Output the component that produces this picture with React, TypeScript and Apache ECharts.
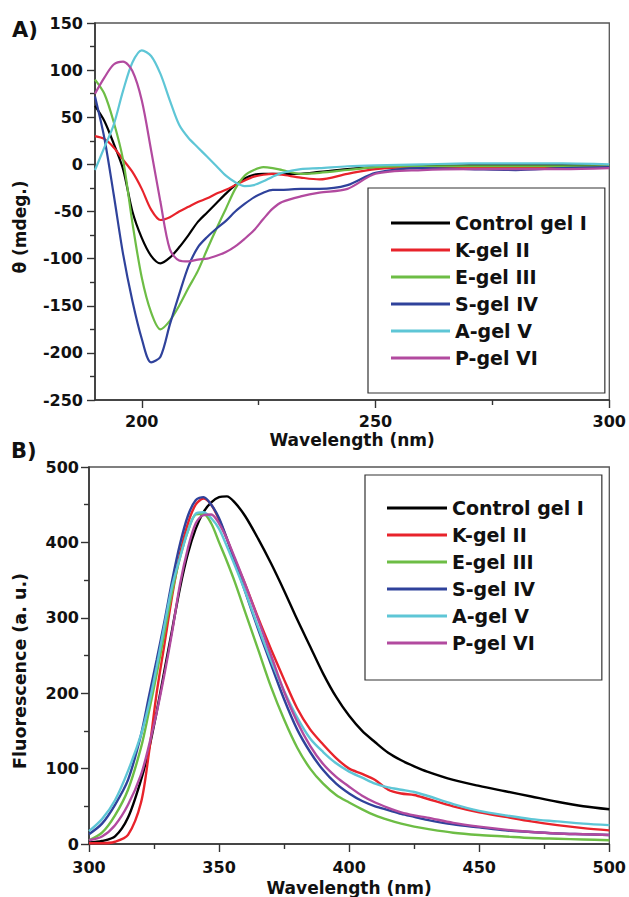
import React, { useEffect, useRef } from "react";
import * as echarts from "echarts";

const seriesNames = ["Control gel I", "K-gel II", "E-gel III", "S-gel IV", "A-gel V", "P-gel VI"];
const seriesColors = ["#000000", "#e8232b", "#6dbd45", "#2f429b", "#5ec6d6", "#b24a9f"];

// Panel A: CD spectra
const cdWavelength = [190, 192, 194, 196, 198, 200, 202, 204, 206, 208, 210, 212, 214, 216, 218, 220, 222, 224, 226, 228, 230, 234, 238, 244, 250, 260, 270, 280, 290, 300];
const cdControl = [62, 46, 22, -5, -50, -78, -97, -105, -99, -88, -75, -61, -51, -41, -31, -22, -15, -11, -10, -10, -10, -10, -8, -5, -3, -2, -1, -1, -1, -1];
const cdK = [30, 27, 18, 5, -8, -26, -48, -59, -56, -50, -45, -40, -36, -31, -27, -22, -17, -13, -11, -10, -11, -14, -16, -10, -5, -3, -3, -3, -3, -2];
const cdE = [90, 75, 45, 5, -62, -120, -157, -175, -166, -150, -131, -113, -90, -68, -47, -26, -12, -6, -3, -4, -6, -10, -9, -6, -3, -2, -2, -2, -2, -2];
const cdS = [72, 28, -32, -95, -145, -185, -210, -204, -170, -138, -108, -88, -77, -68, -60, -50, -42, -35, -30, -27, -27, -26, -26, -22, -9, -4, -5, -6, -4, -3];
const cdA = [-6, 18, 42, 78, 108, 121, 115, 96, 68, 42, 28, 18, 8, -2, -12, -19, -23, -22, -18, -13, -9, -5, -4, -2, -1, 0, 1, 1, 1, 0];
const cdP = [75, 92, 106, 109, 99, 68, 15, -40, -90, -102, -103, -101, -100, -97, -93, -87, -79, -70, -58, -47, -40, -34, -30, -26, -10, -6, -5, -5, -5, -4];

// Panel B: fluorescence spectra
const fluWavelength = [300, 305, 310, 315, 320, 323, 326, 329, 332, 335, 338, 341, 344, 347, 350, 353, 356, 360, 365, 370, 375, 380, 385, 390, 395, 400, 405, 410, 415, 420, 425, 430, 440, 450, 460, 470, 480, 490, 500];
const fluControl = [2, 4, 10, 35, 85, 125, 175, 230, 285, 340, 385, 418, 440, 453, 460, 461, 453, 435, 405, 372, 336, 298, 262, 226, 195, 170, 150, 135, 121, 111, 103, 96, 85, 77, 70, 63, 56, 50, 46];
const fluK = [1, 1, 3, 12, 55, 120, 200, 265, 330, 385, 425, 450, 458, 450, 430, 405, 378, 345, 300, 258, 218, 180, 152, 132, 114, 100, 93, 85, 72, 67, 65, 60, 50, 42, 36, 30, 25, 21, 18];
const fluE = [5, 15, 38, 72, 128, 175, 225, 280, 335, 380, 415, 437, 438, 425, 400, 375, 348, 308, 258, 208, 165, 128, 100, 80, 65, 55, 46, 38, 32, 27, 23, 20, 15, 12, 10, 8, 7, 6, 5];
const fluS = [13, 27, 52, 85, 145, 195, 244, 295, 350, 398, 435, 456, 460, 450, 432, 405, 375, 335, 285, 238, 192, 152, 122, 98, 80, 67, 57, 50, 45, 40, 36, 32, 26, 22, 18, 16, 14, 13, 12];
const fluA = [17, 33, 58, 97, 145, 185, 235, 290, 343, 380, 415, 438, 440, 432, 418, 395, 370, 335, 288, 243, 203, 168, 140, 122, 107, 96, 88, 80, 75, 72, 69, 64, 53, 44, 38, 33, 30, 27, 25];
const fluP = [5, 10, 25, 52, 92, 130, 174, 225, 282, 345, 392, 425, 436, 437, 425, 405, 380, 345, 298, 250, 202, 162, 130, 106, 89, 76, 64, 55, 48, 42, 38, 35, 28, 23, 19, 16, 14, 13, 12];

const cdTicks = [200, 250, 300];
const cdMinorTicks = [225, 275];

const cdValues = [cdControl, cdK, cdE, cdS, cdA, cdP];
const fluValues = [fluControl, fluK, fluE, fluS, fluA, fluP];

const FONT = "'DejaVu Sans', sans-serif";
const AXIS_COLOR = "#333";

export default function App() {
  const ref = useRef<HTMLDivElement>(null);

  useEffect(() => {
    if (!ref.current) return;
    const chart = echarts.init(ref.current, null, { renderer: "svg" });

    const labelStyle = { fontFamily: FONT, fontWeight: "bold" as const, fontSize: 16, color: "#111" };
    const axisLine = { show: true, onZero: false, lineStyle: { color: AXIS_COLOR, width: 1.6 } };
    const tickStyle = { color: AXIS_COLOR, width: 1.4 };

    const cdSeries = seriesNames.map((name, i) => ({
      name,
      type: "line",
      xAxisIndex: 0,
      yAxisIndex: 0,
      data: cdWavelength.map((w, j) => [w, cdValues[i][j]]),
      showSymbol: false,
      symbol: "none",
      smooth: 0.3,
      color: seriesColors[i],
      lineStyle: { color: seriesColors[i], width: 2.2 },
    }));
    const fluSeries = seriesNames.map((name, i) => ({
      name,
      type: "line",
      xAxisIndex: 2,
      yAxisIndex: 1,
      data: fluWavelength.map((w, j) => [w, fluValues[i][j]]),
      showSymbol: false,
      symbol: "none",
      smooth: 0.3,
      color: seriesColors[i],
      lineStyle: { color: seriesColors[i], width: 2.4 },
    }));

    const legendBase = {
      data: seriesNames,
      orient: "vertical",
      icon: "rect",
      itemHeight: 3,
      itemGap: 7,
      borderColor: "#333",
      borderWidth: 1.2,
      backgroundColor: "transparent",
      selectedMode: false,
      textStyle: { fontFamily: FONT, fontWeight: "bold", fontSize: 19, lineHeight: 20, color: "#111" },
    };

    chart.setOption({
      animation: false,
      backgroundColor: "#fff",
      grid: [
        { left: 95, top: 23, width: 517, height: 377, show: true, borderColor: "#555", borderWidth: 1.3 },
        { left: 89, top: 467, width: 522, height: 377, show: true, borderColor: "#555", borderWidth: 1.3 },
      ],
      xAxis: [
        {
          gridIndex: 0,
          type: "value",
          position: "bottom",
          min: 190,
          max: 300,
          axisLine,
          axisTick: { show: true, inside: false, length: 8, customValues: cdTicks, lineStyle: tickStyle },
          axisLabel: { ...labelStyle, margin: 13, customValues: cdTicks },
          splitLine: { show: false },
          name: "Wavelength (nm)",
          nameLocation: "middle",
          nameGap: 31,
          nameTextStyle: { fontFamily: FONT, fontWeight: "bold", fontSize: 17, color: "#111" },
        },
        {
          gridIndex: 0,
          type: "value",
          position: "bottom",
          min: 190,
          max: 300,
          axisLine: { show: false, onZero: false },
          axisTick: { show: true, inside: false, length: 5, customValues: cdMinorTicks, lineStyle: tickStyle },
          axisLabel: { show: false },
          splitLine: { show: false },
        },
        {
          gridIndex: 1,
          type: "value",
          position: "bottom",
          min: 300,
          max: 500,
          interval: 50,
          axisLine,
          axisTick: { show: true, inside: false, length: 8, lineStyle: tickStyle },
          minorTick: { show: true, splitNumber: 2, length: 5, lineStyle: tickStyle },
          axisLabel: { ...labelStyle, margin: 15 },
          splitLine: { show: false },
          minorSplitLine: { show: false },
          name: "Wavelength (nm)",
          nameLocation: "middle",
          nameGap: 35,
          nameTextStyle: { fontFamily: FONT, fontWeight: "bold", fontSize: 17, color: "#111" },
        },
      ],
      yAxis: [
        {
          gridIndex: 0,
          type: "value",
          min: -250,
          max: 150,
          interval: 50,
          axisLine,
          axisTick: { show: true, inside: false, length: 8, lineStyle: tickStyle },
          minorTick: { show: true, splitNumber: 2, length: 5, lineStyle: tickStyle },
          axisLabel: { ...labelStyle, margin: 12 },
          splitLine: { show: false },
          minorSplitLine: { show: false },
        },
        {
          gridIndex: 1,
          type: "value",
          min: 0,
          max: 500,
          interval: 100,
          axisLine,
          axisTick: { show: true, inside: false, length: 8, lineStyle: tickStyle },
          minorTick: { show: true, splitNumber: 2, length: 5, lineStyle: tickStyle },
          axisLabel: { ...labelStyle, margin: 10 },
          splitLine: { show: false },
          minorSplitLine: { show: false },
        },
      ],
      legend: [
        { ...legendBase, left: 368, top: 188, itemWidth: 59, padding: [25, 18, 25, 23] },
        { ...legendBase, left: 365, top: 475, itemWidth: 60, padding: [23, 18, 27, 22] },
      ],
      graphic: [
        {
          type: "text",
          x: 12,
          y: 30,
          style: { text: "A)", fontFamily: FONT, fontWeight: "bold", fontSize: 21, fill: "#111", textVerticalAlign: "middle" },
        },
        {
          type: "text",
          x: 11,
          y: 451,
          style: { text: "B)", fontFamily: FONT, fontWeight: "bold", fontSize: 21, fill: "#111", textVerticalAlign: "middle" },
        },
        {
          type: "text",
          x: 20,
          y: 227,
          rotation: Math.PI / 2,
          style: { text: "θ (mdeg.)", fontFamily: FONT, fontWeight: "bold", fontSize: 17, fill: "#111", textAlign: "center", textVerticalAlign: "middle" },
        },
        {
          type: "text",
          x: 20,
          y: 671,
          rotation: Math.PI / 2,
          style: { text: "Fluorescence (a. u.)", fontFamily: FONT, fontWeight: "bold", fontSize: 17.5, fill: "#111", textAlign: "center", textVerticalAlign: "middle" },
        },
      ],
      series: [...cdSeries, ...fluSeries],
    });

    return () => chart.dispose();
  }, []);

  return <div ref={ref} style={{ position: "absolute", left: 0, top: 0, width: 629, height: 897 }} />;
}
